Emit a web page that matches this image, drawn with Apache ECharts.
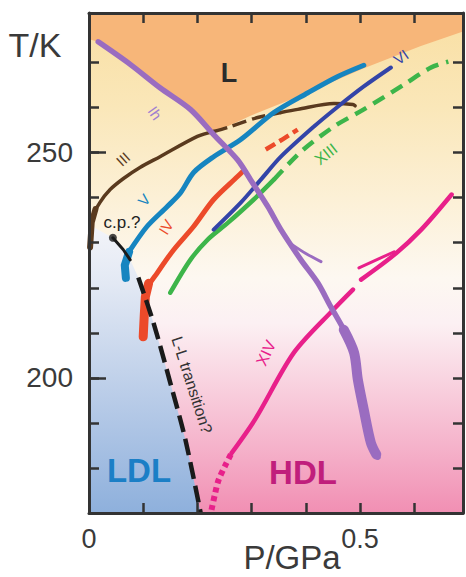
<!DOCTYPE html>
<html><head><meta charset="utf-8">
<script src="https://cdn.jsdelivr.net/npm/echarts@6/dist/echarts.min.js"></script>
<style>html,body{margin:0;padding:0;background:#fff}#c{width:466px;height:577px}</style>
</head><body><div id="c"></div>
<script>
// ---- axis ticks / labels ----
const xTickValues = [0.1, 0.2, 0.3, 0.4, 0.5, 0.6];
const xLabelValues = [0, 0.5];
const yTickValues = [180, 190, 200, 210, 220, 230, 240, 250, 260, 270];
const yLabelValues = [200, 250];
const yMajorTicks = [200, 250];

// ---- regions (P/GPa, T/K) ----
const regionAll = [[0,170],[0.69,170],[0.69,281],[0,281]];
const regionL = [[0,281],[0,275.2],[0.017,274.6],[0.076,269.6],[0.131,264.4],[0.187,259.6],[0.230,254.4],[0.298,258.2],[0.391,262.7],[0.506,268.7],[0.611,273.6],[0.69,276.9],[0.69,281]];
const regionLDL = [[0,170],[0,234],[0.044,231.1],[0.076,226.2],[0.091,222.3],[0.119,212.2],[0.150,198.9],[0.178,186.2],[0.206,170]];

// ---- melting curves ----
const curveIh = [[0.017,274.6],[0.076,269.6],[0.131,264.4],[0.187,259.6],[0.230,254.0],[0.274,248.4],[0.298,244.0],[0.330,238.0],[0.354,232.9],[0.391,226.2],[0.422,221.1],[0.446,215.8],[0.470,210.7],[0.489,205.6],[0.496,199.6],[0.507,192.9],[0.520,185.6],[0.533,182.4]];
const curveIhThick = [[0.470,210.7],[0.489,205.6],[0.496,199.6],[0.507,192.9],[0.520,185.6],[0.530,183.0]];
const curveIhBranch = [[0.372,229.8],[0.400,227.6],[0.428,225.8]];
const curveIII = [[0.002,230.7],[0.007,235.8],[0.020,238.9],[0.039,241.8],[0.063,244.2],[0.094,246.7],[0.131,249.1],[0.200,253.6],[0.230,254.7]];
const curveIIIThick = [[0.002,229.0],[0.005,234.5],[0.012,237.5]];
const curveIIIDash = [[0.230,254.7],[0.256,255.6],[0.311,257.8],[0.354,258.9]];
const curveIIIEnd = [[0.354,258.9],[0.385,259.6],[0.452,260.9],[0.487,260.7],[0.491,260.4]];
const curveV = [[0.074,228.0],[0.107,233.6],[0.144,238.0],[0.169,241.1],[0.193,245.6],[0.230,249.1],[0.280,252.9],[0.341,258.9],[0.404,263.3],[0.459,266.9],[0.507,269.4]];
const curveVThick = [[0.068,222.2],[0.066,225.0],[0.074,228.0]];
const curveIV = [[0.100,209.1],[0.104,214.0],[0.107,219.6],[0.126,223.3],[0.156,228.4],[0.193,233.6],[0.230,239.6],[0.274,244.7],[0.285,246.0]];
const curveIVThick = [[0.100,209.1],[0.102,214.0],[0.104,218.0],[0.110,221.0]];
const curveIVDash = [[0.326,250.7],[0.355,252.8],[0.385,255.1]];
const curveVI = [[0.230,232.9],[0.280,238.9],[0.317,244.0],[0.354,249.1],[0.415,255.8],[0.459,260.2],[0.507,264.7],[0.557,268.9]];
const curveXIII = [[0.150,218.9],[0.187,226.2],[0.219,230.7],[0.256,234.4],[0.304,239.6],[0.341,244.0]];
const curveXIIIDash = [[0.341,244.0],[0.391,250.2],[0.452,255.8],[0.507,259.6],[0.581,265.1],[0.631,268.9],[0.663,270.2]];
const curveXIVDots = [[0.226,170.7],[0.232,174.0],[0.239,177.3],[0.252,180.7],[0.263,183.3]];
const curveXIV = [[0.263,183.3],[0.307,190.9],[0.378,205.6],[0.452,215.3],[0.487,219.6]];
const curveXIVUpper = [[0.502,221.8],[0.563,227.3],[0.613,232.9],[0.669,240.7]];
const curveXIVBranch = [[0.498,224.4],[0.563,228.0]];
const cpLine = [[0.044,231.1],[0.063,228.5],[0.076,226.2]];
const llTransition = [[0.091,222.3],[0.119,212.2],[0.150,198.9],[0.178,186.2],[0.206,170]];
const criticalPoint = [[0.044,231.1]];

const FF = "'Liberation Sans', Arial, Helvetica, sans-serif";
const chart = echarts.init(document.getElementById('c'), null, {renderer:'svg'});

function grad(stops){ return new echarts.graphic.LinearGradient(0,0,0,1, stops.map(s=>({offset:s[0], color:s[1]}))); }
function poly(points, fill, z){
  return {type:'custom', coordinateSystem:'cartesian2d', silent:true, z:z, data:[[0,170]], animation:false,
    renderItem:(params, api)=>({type:'polygon', shape:{points: points.map(p=>api.coord(p))}, style:{fill:fill}})};
}
function line(data, color, width, dash, z, smooth){
  return {type:'line', data:data, symbol:'none', showSymbol:false, smooth: smooth===undefined?0.3:smooth, z:z||3, silent:true, clip:true,
    lineStyle:{color:color, width:width, type: dash||'solid', cap: dash?'butt':'round', join:'round'}};
}
function txt(text, x, y, size, color, rotDeg, bold){
  return {type:'text', x:x, y:y, rotation:(rotDeg||0)*Math.PI/180, z:100,
    style:{text:text, fill:color, font:(bold?'bold ':'')+size+'px '+FF, align:'center', verticalAlign:'middle'}};
}

const axisLineStyle = {color:'#333', width:3};
const tickStyle = {color:'#333', width:2.5};

const option = {
  animation:false,
  backgroundColor:'#fff',
  grid:{left:89, right:3, top:13, bottom:64, containLabel:false},
  xAxis:[
    {type:'value', position:'bottom', min:0, max:0.69, interval:0.1, z:10,
      axisLine:{show:true, onZero:false, lineStyle:axisLineStyle},
      axisTick:{show:true, inside:true, length:10, customValues:xTickValues, lineStyle:tickStyle},
      axisLabel:{show:true, customValues:xLabelValues, formatter:v=>String(v), fontSize:27, fontFamily:FF, color:'#3a3a3a', margin:12},
      splitLine:{show:false}},
    {type:'value', position:'top', min:0, max:0.69, interval:0.1, z:10,
      axisLine:{show:true, onZero:false, lineStyle:axisLineStyle},
      axisTick:{show:true, inside:true, length:10, customValues:xTickValues, lineStyle:tickStyle},
      axisLabel:{show:false}, splitLine:{show:false}}
  ],
  yAxis:[
    {type:'value', position:'left', min:170, max:281, interval:10, z:10,
      axisLine:{show:true, onZero:false, lineStyle:axisLineStyle},
      axisTick:{show:true, inside:true, length:10, customValues:yTickValues, lineStyle:tickStyle},
      axisLabel:{show:true, customValues:yLabelValues, fontSize:28, fontFamily:FF, color:'#3a3a3a', margin:16},
      splitLine:{show:false}},
    {type:'value', position:'right', min:170, max:281, interval:10, z:10,
      axisLine:{show:true, onZero:false, lineStyle:axisLineStyle},
      axisTick:{show:true, inside:true, length:10, customValues:yTickValues, lineStyle:tickStyle},
      axisLabel:{show:false}, splitLine:{show:false}},
    {type:'value', position:'left', min:170, max:281, interval:10, z:11,
      axisLine:{show:false},
      axisTick:{show:true, inside:true, length:17, customValues:yMajorTicks, lineStyle:tickStyle},
      axisLabel:{show:false}, splitLine:{show:false}}
  ],
  series:[
    poly(regionAll, grad([[0,'#f9dfa3'],[0.19,'#fae7b9'],[0.37,'#fcf0d6'],[0.53,'#fdf8f1'],[0.62,'#fcf0f3'],[0.73,'#f9d5e1'],[0.865,'#f5b3cb'],[1,'#f18fb3']]), 0),
    poly(regionL, '#f7b679', 1),
    poly(regionLDL, grad([[0,'#f3f4f9'],[0.2,'#e3e9f4'],[0.6,'#b9cce8'],[1,'#8eb0dc']]), 1),
    line(curveIIIThick, '#5a3a1e', 6, null, 3, 0),
    line(curveIII, '#5a3a1e', 3.5, null, 3),
    line(curveIIIDash, '#5a3a1e', 3.5, [14,6], 3),
    line(curveIIIEnd, '#5a3a1e', 3.5, null, 3),
    line(curveXIII, '#3db54a', 4.5, null, 3),
    line(curveXIIIDash, '#3db54a', 4.5, [13,8], 3),
    line(curveVI, '#3344a8', 4, null, 4),
    line(curveIV, '#ec4a2a', 5, null, 4),
    line(curveIVThick, '#ec4a2a', 9, null, 4, 0),
    line(curveIVDash, '#ec4a2a', 4.5, [11,5], 4, 0),
    line(curveVThick, '#1685c0', 8, null, 4, 0),
    line(curveV, '#1685c0', 5, null, 4),
    line(curveXIVDots, '#e8208a', 6, [5,4], 4),
    line(curveXIV, '#e8208a', 4.5, null, 4),
    line(curveXIVUpper, '#e8208a', 4.5, null, 4),
    line(curveXIVBranch, '#e8208a', 3, null, 4, 0),
    line(curveIhBranch, '#9a6cc0', 3, null, 5, 0.3),
    line(curveIh, '#9a6cc0', 5.5, null, 5),
    line(curveIhThick, '#9a6cc0', 10, null, 5),
    line(cpLine, '#1a1a1a', 3, null, 6, 0),
    line(llTransition, '#1a1a1a', 4.5, [17,7], 6),
    {type:'scatter', data:criticalPoint, symbol:'circle', symbolSize:8, z:7, silent:true, itemStyle:{color:'#1a1a1a'}}
  ],
  graphic:[
    txt('T/K', 35, 45, 34, '#3a3a3a'),
    txt('P/GPa', 292, 557, 33, '#3a3a3a'),
    txt('L', 229, 73, 27, '#2b2b2b', 0, true),
    txt('Ih', 155, 113, 15, '#a07fd0', -55),
    txt('III', 123, 159, 15, '#5a3a1e', 42),
    txt('V', 144, 200, 15, '#1685c0', 50),
    txt('IV', 166, 227, 15, '#ec4a2a', 58),
    txt('VI', 401, 57, 15, '#3344a8', 35),
    txt('XIII', 326, 154, 16, '#3db54a', 38),
    txt('XIV', 266, 353, 16, '#e8208a', 65),
    txt('c.p.?', 122, 222, 17, '#222'),
    txt('L-L transition?', 192, 385, 16, '#333', -72),
    txt('LDL', 139, 470, 33, '#1b7fc6', 0, true),
    txt('HDL', 303, 472, 33, '#c01e7c', 0, true)
  ]
};
chart.setOption(option);
</script>
</body></html>
